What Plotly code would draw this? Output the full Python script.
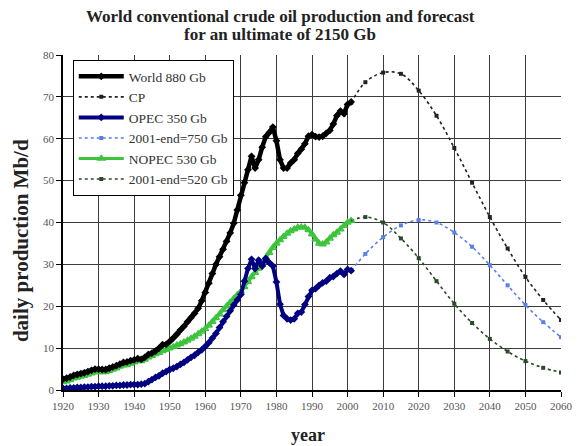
import plotly.graph_objects as go

# ---- historical production, Mb/d ----
hist_years = list(range(1920, 2002))

world = [2.6, 2.8, 3.1, 3.5, 3.7, 3.9, 4.1, 4.4, 4.7, 5.0,
         5.0, 4.9, 4.9, 5.2, 5.5, 5.8, 6.2, 6.6, 6.7, 7.0,
         7.2, 7.5, 7.3, 7.8, 8.5, 8.8, 9.3, 10.0, 10.8, 10.9,
         11.6, 12.4, 13.3, 14.3, 15.2, 16.3, 17.3, 18.3, 19.5, 21.3,
         23.3, 25.5, 27.8, 30.0, 31.8, 33.6, 35.5, 37.5, 39.8, 43.0,
         46.5, 49.5, 52.6, 55.8, 53.0, 55.0, 58.0, 60.5, 61.5, 62.8,
         59.5, 55.0, 53.0, 53.0, 54.2, 55.0, 56.5, 57.5, 58.8, 60.6,
         61.0, 60.5, 60.4, 60.6, 61.3, 62.0, 63.5, 65.5, 66.6, 66.0,
         68.2, 68.8]

opec = [0.4, 0.4, 0.5, 0.5, 0.6, 0.6, 0.7, 0.7, 0.8, 0.8,
        0.9, 0.9, 0.9, 1.0, 1.0, 1.1, 1.1, 1.2, 1.2, 1.3,
        1.3, 1.3, 1.4, 1.5, 2.0, 2.5, 3.0, 3.4, 4.0, 4.4,
        4.9, 5.2, 5.6, 6.1, 6.6, 7.2, 7.8, 8.3, 9.0, 9.6,
        10.4, 11.3, 12.4, 13.5, 14.9, 16.3, 17.6, 18.9, 20.3, 21.5,
        22.8, 26.0, 29.0, 31.2, 29.0, 31.0, 29.6, 31.4, 30.4, 29.6,
        25.8, 20.5, 17.8, 17.0, 16.7, 17.0, 18.3, 18.6, 20.4, 22.3,
        23.8, 24.2, 25.0, 25.6, 26.0, 26.8, 27.1, 27.8, 28.4, 27.6,
        28.8, 28.5]

nopec = [1.9, 2.1, 2.4, 2.8, 3.0, 3.2, 3.4, 3.7, 4.0, 4.3,
         4.3, 4.3, 4.3, 4.6, 4.9, 5.2, 5.6, 5.9, 6.0, 6.3,
         6.6, 6.9, 6.9, 7.3, 7.8, 8.2, 8.6, 8.9, 9.3, 9.6,
         10.0, 10.3, 10.7, 11.0, 11.4, 11.8, 12.3, 12.8, 13.4, 14.0,
         14.6, 15.4, 16.3, 17.2, 18.1, 19.1, 20.0, 20.9, 21.8, 22.7,
         23.5, 24.6, 25.8, 27.0, 28.0, 29.0, 30.0, 31.5, 32.8, 34.0,
         35.0, 35.8, 36.6, 37.4, 38.0, 38.4, 38.8, 38.9, 38.8, 38.2,
         37.2, 36.0, 35.0, 34.8, 35.3, 36.2, 37.0, 37.6, 38.4, 39.2,
         40.0, 40.4]

# ---- forecasts, Mb/d ----
fc_years = [2001, 2005, 2010, 2015, 2020, 2025, 2030, 2035, 2040, 2045, 2050, 2055, 2060]
world_fc = [68.6, 73.5, 75.8, 75.5, 71.5, 65.5, 57.8, 49.5, 41.3, 33.8, 27.0, 21.5, 16.7]
opec_fc = [28.5, 32.5, 36.5, 39.3, 40.6, 40.0, 37.6, 34.2, 29.8, 25.0, 20.3, 16.2, 12.6]
nopec_fc = [40.4, 41.3, 40.0, 36.2, 31.5, 26.0, 20.6, 16.0, 12.2, 9.2, 6.9, 5.3, 4.2]

x_ticks = list(range(1920, 2061, 10))
y_ticks = list(range(0, 81, 10))

title_lines = ["World conventional crude oil production and forecast",
               "for an ultimate of 2150 Gb"]

SERIF = "Liberation Serif, Times New Roman, serif"

fig = go.Figure()


def forecast(name, y, color, rank):
    fig.add_trace(go.Scatter(
        x=fc_years, y=y, name=name, mode="lines+markers",
        line=dict(color=color, width=1.6, dash="dot", shape="spline"),
        marker=dict(color=color, size=4, symbol="square"),
        legendrank=rank,
    ))


forecast("CP", world_fc, "#222222", 2)
forecast("2001-end=750 Gb", opec_fc, "#5a7fe6", 4)
forecast("2001-end=520 Gb", nopec_fc, "#2b4a2b", 6)

fig.add_trace(go.Scatter(
    x=hist_years, y=nopec, name="NOPEC 530 Gb", mode="lines+markers",
    line=dict(color="#3cc43c", width=3),
    marker=dict(color="#3cc43c", size=6, symbol="triangle-up-open", line=dict(width=1.5)),
    legendrank=5,
))
fig.add_trace(go.Scatter(
    x=hist_years, y=opec, name="OPEC 350 Gb", mode="lines+markers",
    line=dict(color="#000080", width=4),
    marker=dict(color="#000080", size=6, symbol="diamond"),
    legendrank=3,
))
fig.add_trace(go.Scatter(
    x=hist_years, y=world, name="World 880 Gb", mode="lines+markers",
    line=dict(color="#000000", width=4.5),
    marker=dict(color="#000000", size=6, symbol="diamond"),
    legendrank=1,
))

axis_common = dict(
    showgrid=True, gridcolor="#3c3c3c", gridwidth=1.2,
    showline=True, linecolor="#000000", linewidth=1.5,
    ticks="outside", ticklen=5, tickcolor="#000000", tickwidth=1,
    tickfont=dict(family=SERIF, size=11, color="#555555"),
    ticklabeloverflow="allow",
    zeroline=False,
)

annotations = [
    dict(text="<b>%s</b>" % title_lines[0], xref="paper", yref="paper",
         x=0.436, y=1.116, xanchor="center", yanchor="middle", showarrow=False,
         font=dict(family=SERIF, size=17, color="#222222")),
    dict(text="<b>%s</b>" % title_lines[1], xref="paper", yref="paper",
         x=0.436, y=1.062, xanchor="center", yanchor="middle", showarrow=False,
         font=dict(family=SERIF, size=17, color="#222222")),
    dict(text="<b>daily production Mb/d</b>", xref="paper", yref="paper",
         x=-0.084, y=0.445, xanchor="center", yanchor="middle",
         textangle=-90, showarrow=False,
         font=dict(family=SERIF, size=21, color="#222222")),
    dict(text="<b>year</b>", xref="paper", yref="paper",
         x=0.492, y=-0.134, xanchor="center", yanchor="middle", showarrow=False,
         font=dict(family=SERIF, size=18, color="#222222")),
]

fig.update_layout(
    width=583, height=446,
    margin=dict(l=63, r=10, t=55, b=56),
    paper_bgcolor="#ffffff", plot_bgcolor="#ffffff",
    xaxis=dict(range=[1920, 2060], tickvals=x_ticks, **axis_common),
    yaxis=dict(range=[0, 80], tickvals=y_ticks, **axis_common),
    legend=dict(
        x=0.0196, y=0.985, xanchor="left", yanchor="top",
        bgcolor="#ffffff", bordercolor="#000000", borderwidth=1,
        font=dict(family=SERIF, size=13.5, color="#333333"),
        itemwidth=45, tracegroupgap=0,
    ),
    showlegend=True,
    annotations=annotations,
)

fig.write_html("out.html")
